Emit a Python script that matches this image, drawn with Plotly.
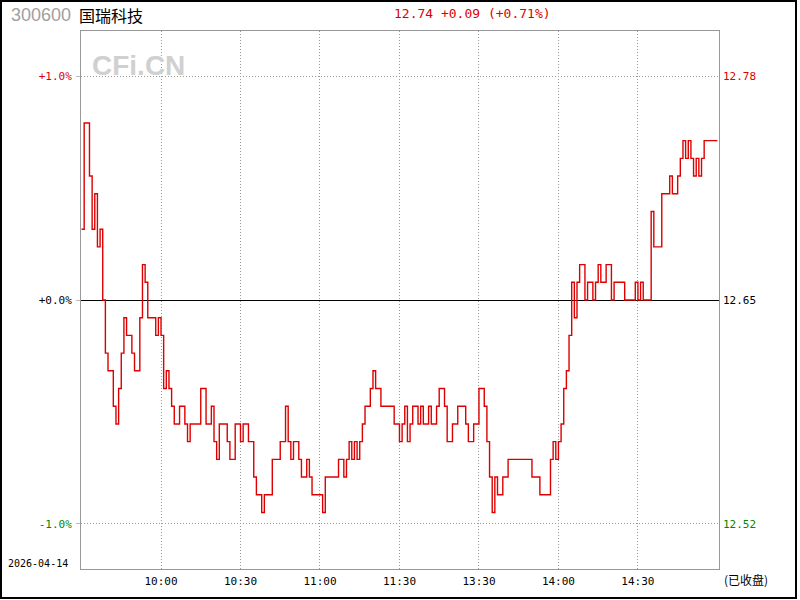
import plotly.graph_objects as go

# ---- data ----
stock_code = "300600"
stock_name = "国瑞科技"
trade_date = "2026-04-14"
prev_close = 12.65
last_price = 12.74
change = 0.09
change_pct = 0.71

# price offsets from previous close in cents, one per trading minute (0 = 9:30, 120 = 11:30/13:00, 240 = 15:00)
cents = [
    4, 10, 10, 7, 4, 6, 3, 4, 0, -3,
    -4, -4, -6, -7, -5, -3, -1, -2, -2, -3,
    -4, -4, -1, 2, 1, -1, -1, -1, -2, -1,
    -2, -5, -4, -5, -6, -7, -7, -6, -6, -7,
    -8, -7, -7, -7, -7, -5, -5, -7, -7, -6,
    -8, -9, -7, -7, -7, -8, -9, -9, -7, -7,
    -8, -7, -7, -8, -8, -10, -11, -11, -12, -11,
    -11, -11, -9, -9, -9, -8, -8, -6, -8, -9,
    -8, -8, -9, -10, -10, -9, -10, -11, -11, -11,
    -11, -12, -10, -10, -10, -10, -10, -9, -9, -10,
    -9, -8, -9, -8, -9, -8, -7, -6, -6, -5,
    -4, -5, -5, -6, -6, -6, -6, -6, -7, -7,
    -8, -7, -6, -8, -7, -6, -6, -7, -6, -7,
    -7, -6, -7, -7, -6, -5, -5, -6, -8, -8,
    -7, -7, -6, -6, -6, -7, -8, -8, -7, -7,
    -5, -5, -6, -8, -10, -12, -10, -11, -11, -10,
    -10, -9, -9, -9, -9, -9, -9, -9, -9, -9,
    -10, -10, -10, -11, -11, -11, -11, -9, -8, -9,
    -8, -7, -5, -4, -2, 1, -1, 1, 2, 2,
    0, 1, 1, 0, 1, 2, 1, 1, 2, 2,
    0, 1, 1, 1, 1, 0, 0, 0, 0, 1,
    0, 1, 0, 0, 0, 5, 3, 3, 3, 6,
    6, 6, 7, 6, 6, 7, 8, 9, 8, 9,
    8, 7, 8, 7, 8, 9, 9, 9, 9, 9,
    9,
]
minutes = list(range(len(cents)))
prices = [round(prev_close + c / 100, 2) for c in cents]
pct = [(p - prev_close) / prev_close * 100 for p in prices]

time_ticks = [30, 60, 90, 120, 150, 180, 210]
time_labels = ["10:00", "10:30", "11:00", "11:30", "13:30", "14:00", "14:30"]
pct_ticks = [1.0, 0.0, -1.0]
pct_labels = ["+1.0%", "+0.0%", "-1.0%"]
price_labels = ["12.78", "12.65", "12.52"]
tick_colors = ["#dd0000", "#000000", "#008800"]

# ---- figure ----
W, H = 800, 600
L, R, T, B = 81, 719, 31, 569
PW, PH = R - L, B - T
YSPAN = 1.201


def px(x):
    return (x - L) / PW


def py(y):
    return (B - y) / PH


fig = go.Figure()
fig.add_trace(go.Scatter(
    x=minutes, y=pct, mode="lines", line=dict(color="#dd0000", width=1.4, shape="hv"),
    hoverinfo="skip", showlegend=False,
))
fig.add_trace(go.Scatter(
    x=minutes, y=prices, mode="lines", yaxis="y2", line=dict(color="rgba(0,0,0,0)", width=0),
    hoverinfo="skip", showlegend=False,
))

mono = "DejaVu Sans Mono"
dotted = "1px,2px"

fig.update_layout(
    width=W, height=H,
    margin=dict(l=L, r=W - R, t=T, b=H - B, pad=0),
    paper_bgcolor="white", plot_bgcolor="white",
    hovermode=False,
    xaxis=dict(
        range=[-0.2, 240.6], tickvals=time_ticks, ticktext=time_labels,
        showgrid=True, gridcolor="#999999", griddash=dotted, gridwidth=1,
        showline=True, linecolor="#999999", linewidth=1, mirror=True,
        ticks="", zeroline=False, tickfont=dict(family=mono, size=11, color="black"),
        ticklabelstandoff=2,
    ),
    yaxis=dict(
        range=[-YSPAN, YSPAN], tickvals=pct_ticks,
        ticktext=[f'<span style="color:{c}">{t}</span>' for t, c in zip(pct_labels, tick_colors)],
        showgrid=True, gridcolor="#999999", griddash=dotted, gridwidth=1,
        zeroline=True, zerolinecolor="black", zerolinewidth=1,
        showline=True, linecolor="#999999", linewidth=1, mirror=True,
        ticks="outside", ticklen=4, tickcolor="#bbbbbb",
        tickfont=dict(family=mono, size=11), ticklabelstandoff=2,
    ),
    yaxis2=dict(
        overlaying="y", side="right",
        range=[prev_close * (1 - YSPAN / 100), prev_close * (1 + YSPAN / 100)],
        tickvals=[prev_close * (1 + v / 100) for v in pct_ticks],
        ticktext=[f'<span style="color:{c}">{t}</span>' for t, c in zip(price_labels, tick_colors)],
        showgrid=False, zeroline=False, showline=False, ticks="",
        tickfont=dict(family=mono, size=11), ticklabelstandoff=3,
    ),
    shapes=[
        dict(type="rect", xref="paper", yref="paper",
             x0=px(1), x1=px(796), y0=py(1), y1=py(598),
             line=dict(color="black", width=2), fillcolor="rgba(0,0,0,0)", layer="above"),
    ],
    annotations=[
        dict(text=stock_code, xref="paper", yref="paper", x=px(9), y=py(15),
             xanchor="left", yanchor="middle", showarrow=False,
             font=dict(family="Liberation Sans", size=18, color="#a0a0a0")),
        dict(text=stock_name, xref="paper", yref="paper", x=px(77), y=py(15),
             xanchor="left", yanchor="middle", showarrow=False,
             font=dict(family="Noto Sans CJK SC", size=16, color="black")),
        dict(text=f"{last_price:.2f} +{change:.2f} (+{change_pct:.2f}%)",
             xref="paper", yref="paper", x=px(472), y=py(14),
             xanchor="center", yanchor="middle", showarrow=False,
             font=dict(family=mono, size=13, color="#dd0000")),
        dict(text="<b>CFi.CN</b>", xref="paper", yref="paper", x=px(138), y=py(65),
             xanchor="center", yanchor="middle", showarrow=False,
             font=dict(family="Liberation Sans", size=28, color="#d0d0d0")),
        dict(text=trade_date, xref="paper", yref="paper", x=px(6), y=py(563),
             xanchor="left", yanchor="middle", showarrow=False,
             font=dict(family=mono, size=10, color="black")),
        dict(text="(已收盘)", xref="paper", yref="paper", x=px(722), y=py(579),
             xanchor="left", yanchor="middle", showarrow=False,
             font=dict(family="Noto Sans CJK SC", size=12, color="black")),
    ],
)

fig.write_html(
    "out.html",
    config={"displayModeBar": False, "staticPlot": True},
    post_script="document.body.style.margin='0';document.body.style.overflow='hidden';",
)
